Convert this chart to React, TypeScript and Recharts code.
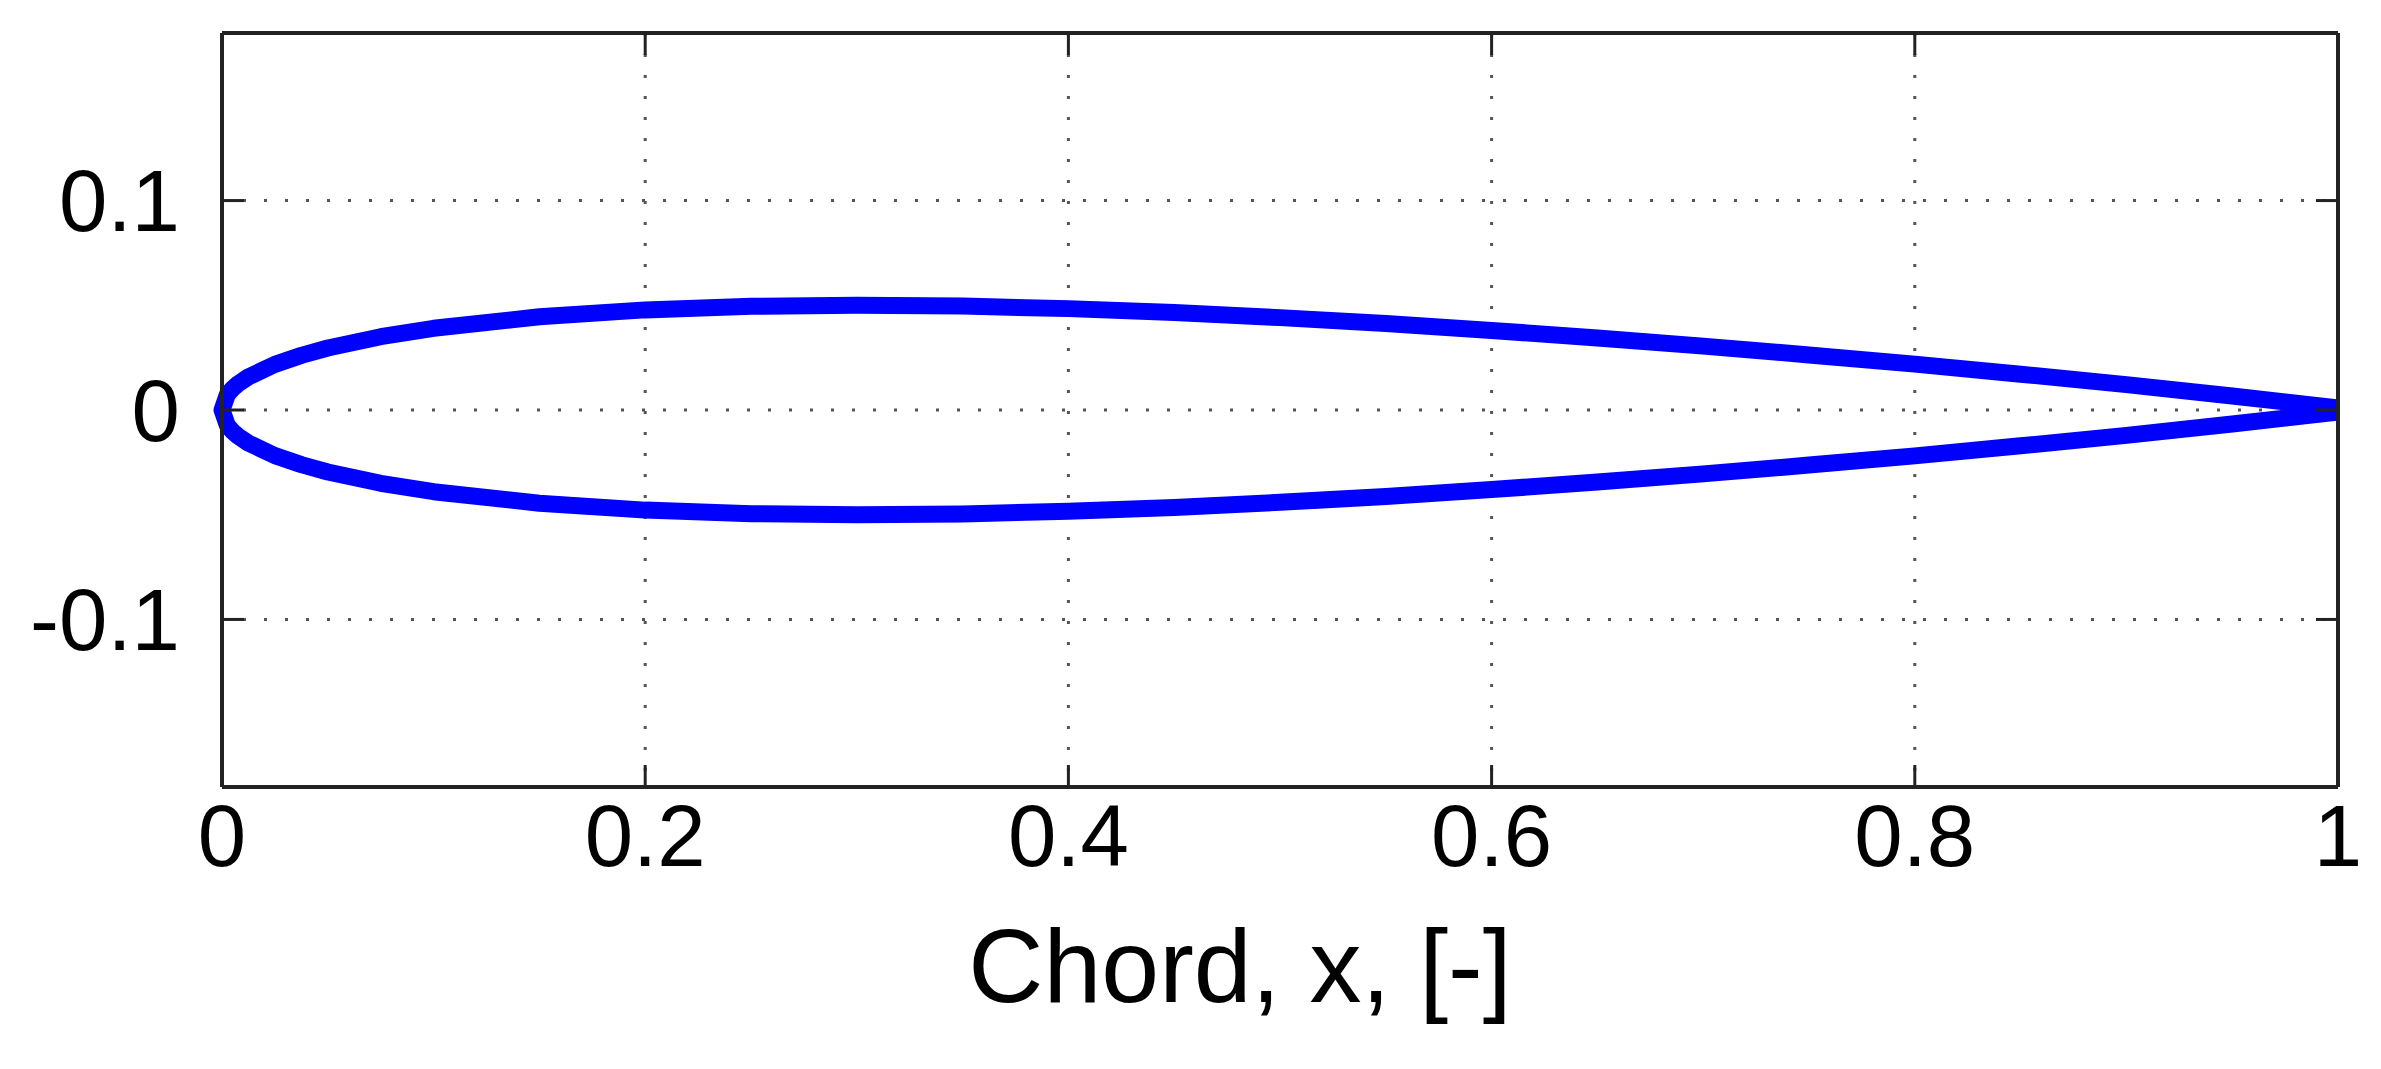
import React from 'react';
import { LineChart, Line, XAxis, YAxis, CartesianGrid } from 'recharts';

// chord stations, trailing edge -> leading edge
const chordX = [1, 0.95, 0.9, 0.85, 0.8, 0.75, 0.7, 0.65, 0.6, 0.55, 0.5, 0.45, 0.4, 0.35, 0.3, 0.25, 0.2, 0.15, 0.1, 0.075, 0.05, 0.0375, 0.025, 0.0125, 0.0075, 0.005, 0.0025, 0];

// upper / lower surface
const upperY = [0.001, 0.0067, 0.0121, 0.0171, 0.0219, 0.0263, 0.0305, 0.0344, 0.038, 0.0413, 0.0441, 0.0465, 0.0484, 0.0496, 0.05, 0.0495, 0.0478, 0.0445, 0.039, 0.035, 0.0296, 0.0261, 0.0218, 0.0158, 0.0124, 0.0102, 0.0073, 0];
const lowerY = [-0.001, -0.0067, -0.0121, -0.0171, -0.0219, -0.0263, -0.0305, -0.0344, -0.038, -0.0413, -0.0441, -0.0465, -0.0484, -0.0496, -0.05, -0.0495, -0.0478, -0.0445, -0.039, -0.035, -0.0296, -0.0261, -0.0218, -0.0158, -0.0124, -0.0102, -0.0073, 0];

const xTicks = [0, 0.2, 0.4, 0.6, 0.8, 1];
const yTicks = [-0.1, 0, 0.1];

const FONT = "'Liberation Sans', Arial, Helvetica, sans-serif";
const BOX = '#222';
const TICK_LEN = 22;
const TICK_FONT = 87;

// plot box edges (from the chart margins + axis sizes below)
const BOX_LEFT = 222;
const BOX_RIGHT = 2338;
const BOX_TOP = 33;
const BOX_BOTTOM = 787;

// one closed outline: upper TE->LE, then lower LE->TE
const outline = [
  ...chordX.map((x, i) => ({ x, y: upperY[i] })),
  ...chordX
    .map((x, i) => ({ x, y: lowerY[i] }))
    .reverse()
    .slice(1),
];

// MATLAB style: tick marks point into the box, on all four sides
function BottomTick(props: any) {
  const { x, payload } = props;
  return (
    <g>
      <line x1={x} y1={BOX_BOTTOM} x2={x} y2={BOX_BOTTOM - TICK_LEN} stroke={BOX} strokeWidth={3} />
      <line x1={x} y1={BOX_TOP} x2={x} y2={BOX_TOP + TICK_LEN} stroke={BOX} strokeWidth={3} />
      <text x={x} y={BOX_BOTTOM + 79} textAnchor="middle" fill="#000" fontSize={TICK_FONT} fontFamily={FONT}>
        {String(payload.value)}
      </text>
    </g>
  );
}

function LeftTick(props: any) {
  const { y, payload } = props;
  return (
    <g>
      <line x1={BOX_LEFT} y1={y} x2={BOX_LEFT + TICK_LEN} y2={y} stroke={BOX} strokeWidth={3} />
      <line x1={BOX_RIGHT} y1={y} x2={BOX_RIGHT - TICK_LEN} y2={y} stroke={BOX} strokeWidth={3} />
      <text x={BOX_LEFT - 42} y={y} dy="0.355em" textAnchor="end" fill="#000" fontSize={TICK_FONT} fontFamily={FONT}>
        {String(payload.value)}
      </text>
    </g>
  );
}

export default function App() {
  return (
    <div style={{ position: 'absolute', left: 0, top: 0, background: '#fff' }}>
      <LineChart
        width={2381}
        height={1069}
        data={outline}
        margin={{ top: 32, right: 42, bottom: 82, left: 22 }}
      >
        <CartesianGrid stroke="#555" strokeWidth={3} strokeDasharray="3 18" />
        <XAxis
          dataKey="x"
          type="number"
          domain={[0, 1]}
          ticks={xTicks}
          height={200}
          axisLine={{ stroke: BOX, strokeWidth: 4 }}
          tickLine={false}
          tick={<BottomTick />}
          label={{
            content: (props: any) => {
              const vb = props.viewBox || { x: BOX_LEFT, y: BOX_BOTTOM, width: BOX_RIGHT - BOX_LEFT };
              return (
                <text
                  x={vb.x + vb.width / 2 - 40}
                  y={vb.y + 215}
                  textAnchor="middle"
                  fill="#000"
                  fontSize={104}
                  fontFamily={FONT}
                >
                  Chord, x, [-]
                </text>
              );
            },
          }}
        />
        <XAxis
          xAxisId="top"
          orientation="top"
          type="number"
          domain={[0, 1]}
          height={1}
          axisLine={{ stroke: BOX, strokeWidth: 4 }}
          tickLine={false}
          tick={false}
        />
        <YAxis
          type="number"
          domain={[-0.18, 0.18]}
          ticks={yTicks}
          width={200}
          axisLine={{ stroke: BOX, strokeWidth: 4 }}
          tickLine={false}
          tick={<LeftTick />}
        />
        <YAxis
          yAxisId="right"
          orientation="right"
          type="number"
          domain={[-0.18, 0.18]}
          width={1}
          axisLine={{ stroke: BOX, strokeWidth: 4 }}
          tickLine={false}
          tick={false}
        />
        <Line
          type="linear"
          dataKey="y"
          stroke="#0000ff"
          strokeWidth={17}
          strokeLinejoin="round"
          dot={false}
          activeDot={false}
          isAnimationActive={false}
        />
      </LineChart>
    </div>
  );
}
